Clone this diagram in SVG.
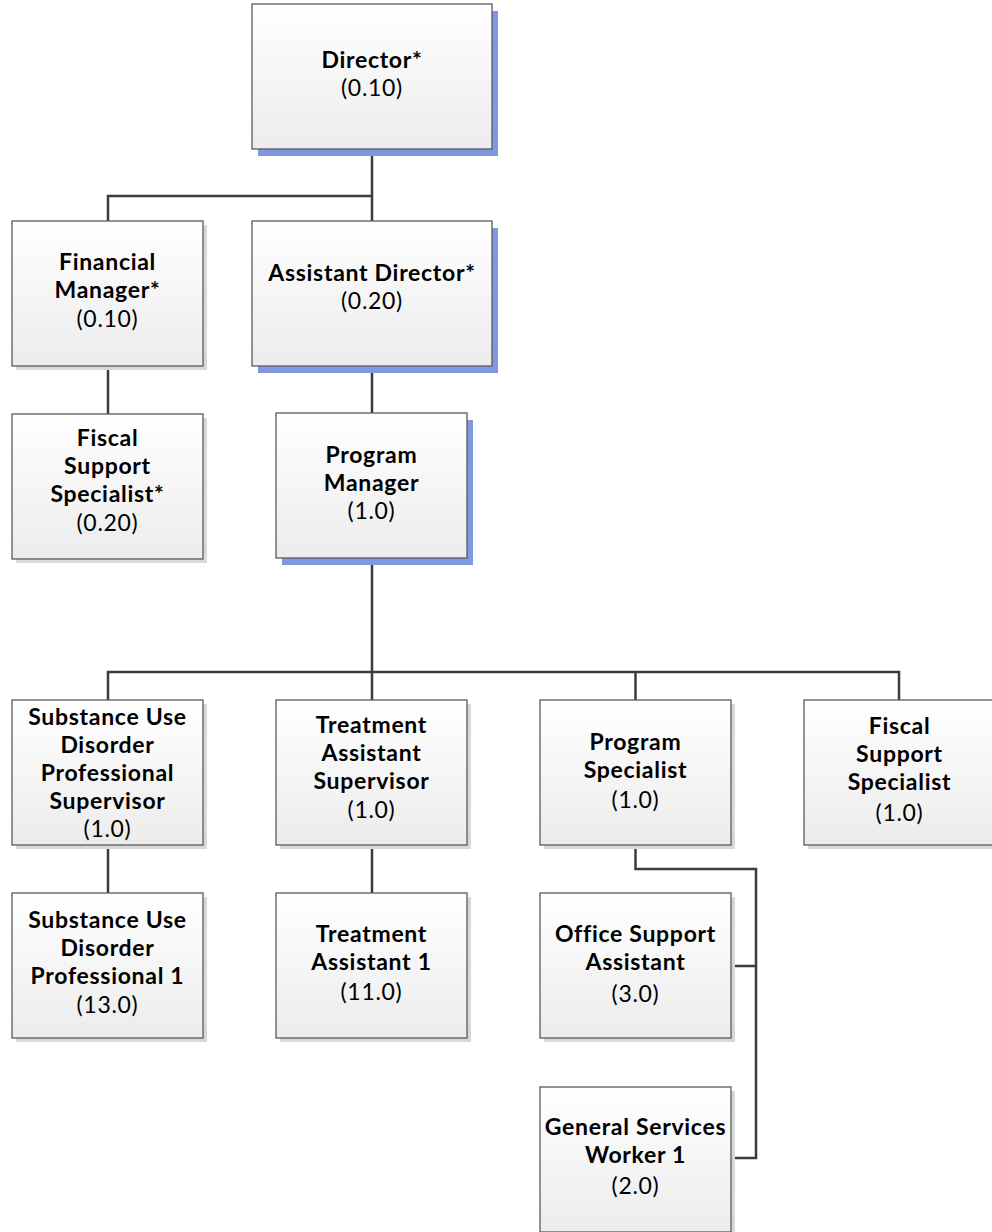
<svg xmlns="http://www.w3.org/2000/svg" width="992" height="1232" viewBox="0 0 992 1232">
<defs>
<linearGradient id="g" x1="0" y1="0" x2="0" y2="1">
<stop offset="0" stop-color="#ffffff"/>
<stop offset="1" stop-color="#ececec"/>
</linearGradient>
<style>
.box{fill:url(#g);stroke:#5b5b5b;stroke-width:1.3}
.sh{fill:#d9d9d9}
.shb{fill:#7f98e0}
text{font-family:Lato,"Liberation Sans",sans-serif;font-size:23px;letter-spacing:0.7px;fill:#000;text-anchor:middle}
.b{font-weight:bold}
.r{font-weight:normal}
.c{fill:none;stroke:#3c3c3c;stroke-width:2.5}
</style>
</defs>
<rect width="992" height="1232" fill="#fff"/>
<g id="connectors">
<path class="c" d="M372 149V196H108V221M372 196V221"/>
<path class="c" d="M108 366V414"/>
<path class="c" d="M372 366V413"/>
<path class="c" d="M372 558V672M108 700V672H899V700M372 672V700M635.5 672V700"/>
<path class="c" d="M108 845V893"/>
<path class="c" d="M372 845V893"/>
<path class="c" d="M635.5 845V869H756V1158H731M756 966H731"/>
</g>
<g id="director">
<rect class="shb" x="258" y="11" width="240" height="145"/>
<rect class="box" x="252" y="4" width="240" height="145"/>
<text><tspan class="b" x="372" y="68">Director*</tspan><tspan class="r" x="372" y="96">(0.10)</tspan></text>
</g>
<g id="financial-manager">
<rect class="sh" x="16" y="225" width="191" height="145"/>
<rect class="box" x="12" y="221" width="191" height="145"/>
<text><tspan class="b" x="107.5" y="270">Financial</tspan><tspan class="b" x="107.5" y="298">Manager*</tspan><tspan class="r" x="107.5" y="327">(0.10)</tspan></text>
</g>
<g id="assistant-director">
<rect class="shb" x="258" y="228" width="240" height="145"/>
<rect class="box" x="252" y="221" width="240" height="145"/>
<text><tspan class="b" x="372" y="281">Assistant Director*</tspan><tspan class="r" x="372" y="309">(0.20)</tspan></text>
</g>
<g id="fiscal-support-specialist-star">
<rect class="sh" x="16" y="418" width="191" height="145"/>
<rect class="box" x="12" y="414" width="191" height="145"/>
<text><tspan class="b" x="107.5" y="446">Fiscal</tspan><tspan class="b" x="107.5" y="474">Support</tspan><tspan class="b" x="107.5" y="502">Specialist*</tspan><tspan class="r" x="107.5" y="531">(0.20)</tspan></text>
</g>
<g id="program-manager">
<rect class="shb" x="282" y="420" width="191" height="145"/>
<rect class="box" x="276" y="413" width="191" height="145"/>
<text><tspan class="b" x="371.5" y="463">Program</tspan><tspan class="b" x="371.5" y="491">Manager</tspan><tspan class="r" x="371.5" y="519">(1.0)</tspan></text>
</g>
<g id="sud-professional-supervisor">
<rect class="sh" x="16" y="704" width="191" height="145"/>
<rect class="box" x="12" y="700" width="191" height="145"/>
<text><tspan class="b" x="107.5" y="725">Substance Use</tspan><tspan class="b" x="107.5" y="753">Disorder</tspan><tspan class="b" x="107.5" y="781">Professional</tspan><tspan class="b" x="107.5" y="809">Supervisor</tspan><tspan class="r" x="107.5" y="837">(1.0)</tspan></text>
</g>
<g id="treatment-assistant-supervisor">
<rect class="sh" x="280" y="704" width="191" height="145"/>
<rect class="box" x="276" y="700" width="191" height="145"/>
<text><tspan class="b" x="371.5" y="733">Treatment</tspan><tspan class="b" x="371.5" y="761">Assistant</tspan><tspan class="b" x="371.5" y="789">Supervisor</tspan><tspan class="r" x="371.5" y="818">(1.0)</tspan></text>
</g>
<g id="program-specialist">
<rect class="sh" x="544" y="704" width="191" height="145"/>
<rect class="box" x="540" y="700" width="191" height="145"/>
<text><tspan class="b" x="635.5" y="750">Program</tspan><tspan class="b" x="635.5" y="778">Specialist</tspan><tspan class="r" x="635.5" y="808">(1.0)</tspan></text>
</g>
<g id="fiscal-support-specialist">
<rect class="sh" x="808" y="704" width="191" height="145"/>
<rect class="box" x="804" y="700" width="191" height="145"/>
<text><tspan class="b" x="899.5" y="734">Fiscal</tspan><tspan class="b" x="899.5" y="762">Support</tspan><tspan class="b" x="899.5" y="790">Specialist</tspan><tspan class="r" x="899.5" y="821">(1.0)</tspan></text>
</g>
<g id="sud-professional-1">
<rect class="sh" x="16" y="897" width="191" height="145"/>
<rect class="box" x="12" y="893" width="191" height="145"/>
<text><tspan class="b" x="107.5" y="928">Substance Use</tspan><tspan class="b" x="107.5" y="956">Disorder</tspan><tspan class="b" x="107.5" y="984">Professional 1</tspan><tspan class="r" x="107.5" y="1013">(13.0)</tspan></text>
</g>
<g id="treatment-assistant-1">
<rect class="sh" x="280" y="897" width="191" height="145"/>
<rect class="box" x="276" y="893" width="191" height="145"/>
<text><tspan class="b" x="371.5" y="942">Treatment</tspan><tspan class="b" x="371.5" y="970">Assistant 1</tspan><tspan class="r" x="371.5" y="1000">(11.0)</tspan></text>
</g>
<g id="office-support-assistant">
<rect class="sh" x="544" y="897" width="191" height="145"/>
<rect class="box" x="540" y="893" width="191" height="145"/>
<text><tspan class="b" x="635.5" y="942">Office Support</tspan><tspan class="b" x="635.5" y="970">Assistant</tspan><tspan class="r" x="635.5" y="1002">(3.0)</tspan></text>
</g>
<g id="general-services-worker-1">
<rect class="sh" x="544" y="1091" width="191" height="145"/>
<rect class="box" x="540" y="1087" width="191" height="145"/>
<text><tspan class="b" x="635.5" y="1135">General Services</tspan><tspan class="b" x="635.5" y="1163">Worker 1</tspan><tspan class="r" x="635.5" y="1194">(2.0)</tspan></text>
</g>
</svg>
